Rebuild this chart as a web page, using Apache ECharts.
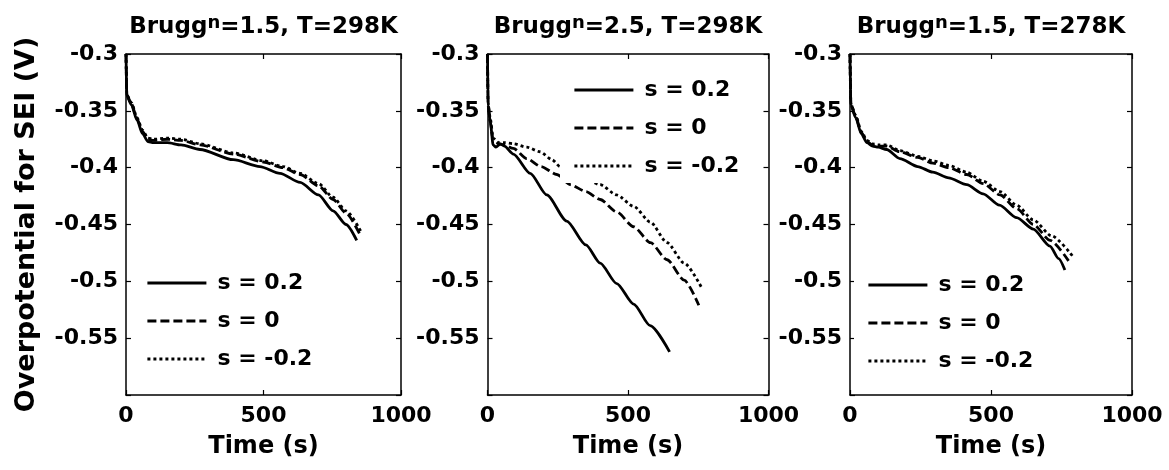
<!DOCTYPE html>
<html>
<head>
<meta charset="utf-8">
<script src="https://cdn.jsdelivr.net/npm/echarts@6/dist/echarts.min.js"></script>
<style>
  html, body { margin: 0; padding: 0; background: #fff; }
  #chart { width: 1169px; height: 470px; }
</style>
</head>
<body>
<div id="chart"></div>
<script>
// Overpotential for SEI formation during discharge, three parameter sets.
const seriesNames = ['s = 0.2', 's = 0', 's = -0.2'];
const panelTitles = [
  ['1.5', '298K'],
  ['2.5', '298K'],
  ['1.5', '278K']
];
const xTicks = [0, 500, 1000];
const yTicks = [-0.3, -0.35, -0.4, -0.45, -0.5, -0.55];

// Panel 1: Brugg n = 1.5, T = 298 K
const p1_t_s02 = [0, 3, 20, 40, 60, 80, 100, 150, 200, 269, 390, 487, 560, 633, 700, 753, 800, 839];
const p1_v_s02 = [-0.3, -0.337, -0.345, -0.358, -0.370, -0.377, -0.378, -0.378, -0.380, -0.384, -0.393, -0.399, -0.405, -0.413, -0.424, -0.438, -0.450, -0.464];
const p1_t_s0 = [0, 3, 20, 40, 60, 80, 100, 150, 200, 270, 390, 500, 570, 633, 700, 753, 800, 851];
const p1_v_s0 = [-0.3, -0.336, -0.344, -0.357, -0.368, -0.375, -0.376, -0.375, -0.376, -0.380, -0.388, -0.395, -0.400, -0.406, -0.416, -0.428, -0.440, -0.459];
const p1_t_sm02 = [0, 3, 20, 40, 60, 80, 100, 150, 200, 270, 390, 500, 570, 633, 700, 753, 800, 856];
const p1_v_sm02 = [-0.3, -0.336, -0.343, -0.356, -0.367, -0.374, -0.375, -0.374, -0.375, -0.379, -0.387, -0.394, -0.399, -0.405, -0.414, -0.426, -0.438, -0.457];

// Panel 2: Brugg n = 2.5, T = 298 K
const p2_t_s02 = [0, 2, 10, 20, 30, 45, 60, 92, 152, 211, 282, 350, 401, 460, 520, 579, 648];
const p2_v_s02 = [-0.3, -0.345, -0.360, -0.380, -0.382, -0.379, -0.381, -0.388, -0.405, -0.424, -0.447, -0.468, -0.484, -0.502, -0.520, -0.539, -0.562];
const p2_t_s0 = [0, 2, 10, 20, 40, 60, 92, 140, 190, 247, 295, 350, 401, 460, 520, 580, 639, 700, 752];
const p2_v_s0 = [-0.3, -0.345, -0.360, -0.376, -0.379, -0.380, -0.383, -0.392, -0.399, -0.406, -0.415, -0.421, -0.428, -0.439, -0.452, -0.466, -0.481, -0.499, -0.521];
const p2_t_sm02 = [0, 2, 10, 20, 40, 60, 92, 140, 187, 230, 258, 330, 401, 460, 520, 580, 639, 700, 763];
const p2_v_sm02 = [-0.3, -0.343, -0.357, -0.374, -0.378, -0.378, -0.379, -0.382, -0.386, -0.393, -0.399, -0.407, -0.415, -0.424, -0.434, -0.448, -0.466, -0.484, -0.506];

// Panel 3: Brugg n = 1.5, T = 278 K
const p3_t_s02 = [0, 3, 20, 40, 60, 80, 100, 130, 177, 240, 294, 350, 414, 472, 530, 591, 650, 709, 740, 762];
const p3_v_s02 = [-0.3, -0.345, -0.356, -0.370, -0.378, -0.381, -0.382, -0.384, -0.392, -0.399, -0.404, -0.409, -0.415, -0.423, -0.433, -0.444, -0.454, -0.469, -0.480, -0.490];
const p3_t_s0 = [0, 3, 20, 40, 60, 80, 100, 130, 177, 240, 294, 350, 414, 472, 532, 591, 650, 710, 775];
const p3_v_s0 = [-0.3, -0.344, -0.355, -0.369, -0.377, -0.380, -0.381, -0.381, -0.386, -0.391, -0.396, -0.400, -0.406, -0.414, -0.424, -0.436, -0.450, -0.464, -0.482];
const p3_t_sm02 = [0, 3, 20, 40, 60, 80, 100, 130, 177, 240, 294, 350, 414, 472, 532, 591, 650, 715, 790];
const p3_v_sm02 = [-0.3, -0.344, -0.354, -0.368, -0.376, -0.379, -0.380, -0.380, -0.385, -0.390, -0.394, -0.398, -0.404, -0.412, -0.421, -0.433, -0.446, -0.460, -0.478];

const panels = [
  [[p1_t_s02, p1_v_s02], [p1_t_s0, p1_v_s0], [p1_t_sm02, p1_v_sm02]],
  [[p2_t_s02, p2_v_s02], [p2_t_s0, p2_v_s0], [p2_t_sm02, p2_v_sm02]],
  [[p3_t_s02, p3_v_s02], [p3_t_s0, p3_v_s0], [p3_t_sm02, p3_v_sm02]]
];

const FONT = 'DejaVu Sans';
const INK = '#000';
const lineTypes = ['solid', [9, 4], [3, 3]];

const grids = [
  { left: 126, width: 275, top: 54, height: 341 },
  { left: 487.5, width: 281, top: 54, height: 341 },
  { left: 850, width: 282, top: 54, height: 341 }
];
const legendPos = [
  { left: 133, top: 268 },
  { left: 560, top: 75 },
  { left: 854, top: 270 }
];

const axisLine = { show: true, onZero: false, lineStyle: { color: INK, width: 1.5 } };
const axisTick = { show: true, inside: true, length: 5, lineStyle: { color: INK, width: 1.2 } };
const labelFont = { fontFamily: FONT, fontWeight: 'bold', fontSize: 22, color: INK };

const xAxes = [], yAxes = [], series = [], legends = [], graphics = [];

grids.forEach((g, i) => {
  xAxes.push({
    gridIndex: i, type: 'value', position: 'bottom',
    min: xTicks[0], max: xTicks[xTicks.length - 1], interval: xTicks[1] - xTicks[0],
    axisLine, axisTick, splitLine: { show: false },
    axisLabel: Object.assign({ margin: 10, formatter: v => String(v) }, labelFont),
    name: 'Time (s)', nameLocation: 'middle', nameGap: 40,
    nameTextStyle: { fontFamily: FONT, fontWeight: 'bold', fontSize: 24, color: INK }
  });
  xAxes.push({
    gridIndex: i, type: 'value', position: 'top',
    min: xTicks[0], max: xTicks[xTicks.length - 1], interval: xTicks[1] - xTicks[0],
    axisLine, axisTick, splitLine: { show: false }, axisLabel: { show: false }
  });
  const yMain = {
    gridIndex: i, type: 'value', position: 'left',
    min: -0.6, max: yTicks[0], interval: 0.05,
    axisLine, axisTick, splitLine: { show: false },
    axisLabel: Object.assign({
      margin: 8,
      formatter: v => (v < -0.58 ? '' : String(+v.toFixed(2)))
    }, labelFont)
  };
  if (i === 0) {
    Object.assign(yMain, {
      name: 'Overpotential for SEI (V)', nameLocation: 'middle', nameRotate: 90, nameGap: 86,
      nameTextStyle: { fontFamily: FONT, fontWeight: 'bold', fontSize: 27, color: INK }
    });
  }
  yAxes.push(yMain);
  yAxes.push({
    gridIndex: i, type: 'value', position: 'right',
    min: -0.6, max: yTicks[0], interval: 0.05,
    axisLine, axisTick, splitLine: { show: false }, axisLabel: { show: false }
  });

  panels[i].forEach((pair, k) => {
    const [ts, vs] = pair;
    series.push({
      name: seriesNames[k], type: 'line',
      xAxisIndex: 2 * i, yAxisIndex: 2 * i,
      data: ts.map((t, j) => [t, vs[j]]),
      showSymbol: false, symbol: 'none',
      smooth: 0.25, smoothMonotone: 'x',
      clip: true,
      lineStyle: { color: INK, width: 2.8, type: lineTypes[k] },
      itemStyle: { color: INK },
      emphasis: { disabled: true },
      z: 2
    });
  });

  legends.push({
    data: seriesNames, orient: 'vertical',
    left: legendPos[i].left, top: legendPos[i].top,
    padding: [4, 10, 6, 13], itemGap: 16,
    itemWidth: 59, itemHeight: 14,
    backgroundColor: '#fff', selectedMode: false,
    itemStyle: { opacity: 0 },
    lineStyle: { width: 2.8, opacity: 1 },
    textStyle: { fontFamily: FONT, fontWeight: 'bold', fontSize: 22, lineHeight: 22, color: INK, padding: [0, 0, 0, 6] },
    z: 5
  });

  const [n, T] = panelTitles[i];
  graphics.push({
    type: 'text',
    x: g.left + g.width / 2, y: 27,
    style: {
      text: '{b|Brugg}{sup|n}{b|=' + n + ', T=' + T + '}',
      align: 'center', verticalAlign: 'middle',
      rich: {
        b: { fontFamily: FONT, fontWeight: 'bold', fontSize: 23, lineHeight: 26, fill: INK, color: INK },
        sup: { fontFamily: FONT, fontWeight: 'bold', fontSize: 18, lineHeight: 12, verticalAlign: 'top', fill: INK, color: INK }
      }
    }
  });
});

const chart = echarts.init(document.getElementById('chart'), null, { renderer: 'canvas' });
chart.setOption({
  animation: false,
  backgroundColor: '#fff',
  grid: grids.map(g => Object.assign({ containLabel: false }, g)),
  xAxis: xAxes,
  yAxis: yAxes,
  legend: legends,
  series: series,
  graphic: graphics
});
</script>
</body>
</html>
